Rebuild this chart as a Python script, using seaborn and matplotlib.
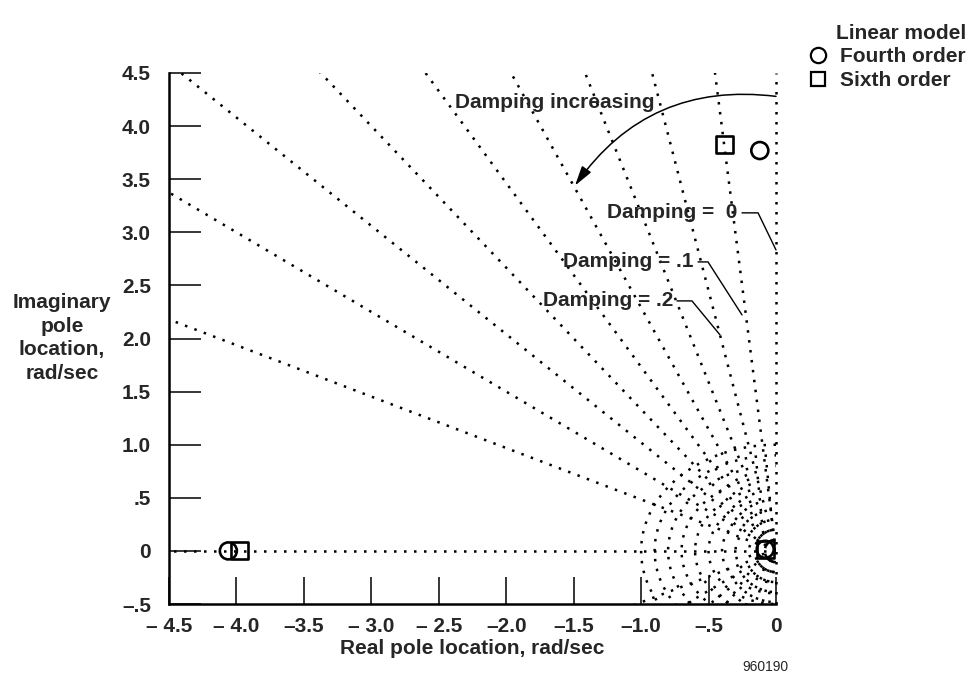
import numpy as np
import pandas as pd
import matplotlib
matplotlib.use("Agg")
import matplotlib.pyplot as plt
import seaborn as sns
from matplotlib.lines import Line2D

# ---- data ----
damping_ratios = [0.0, 0.1, 0.2, 0.3, 0.4, 0.5, 0.6, 0.7, 0.8, 0.9, 1.0]
natural_freqs = [0.1, 0.2, 0.3, 0.4, 0.5, 0.6, 0.7, 0.8, 0.9, 1.0]

fourth_real = [-4.06, -0.08, -0.12]
fourth_imag = [0.0, 0.015, 3.77]
sixth_real = [-3.98, -0.08, -0.38]
sixth_imag = [0.0, 0.015, 3.83]

x_ticks = [-4.5, -4.0, -3.5, -3.0, -2.5, -2.0, -1.5, -1.0, -0.5, 0.0]
x_ticklabels = ["\u2013 4.5", "\u2013 4.0", "\u20133.5", "\u2013 3.0", "\u2013 2.5",
                "\u20132.0", "\u20131.5", "\u20131.0", "\u2013.5", "0"]
y_ticks = [-0.5, 0, 0.5, 1.0, 1.5, 2.0, 2.5, 3.0, 3.5, 4.0, 4.5]
y_ticklabels = ["\u2013.5", "0", ".5", "1.0", "1.5", "2.0", "2.5", "3.0", "3.5", "4.0", "4.5"]

sns.set_theme(style="white")
plt.rcParams["font.family"] = ["Liberation Sans", "DejaVu Sans"]
plt.rcParams["font.weight"] = "bold"
FS = 15

fig = plt.figure(figsize=(9.7, 6.75), dpi=100)
ax = fig.add_axes([169 / 970, 1 - 604 / 675, (776 - 169) / 970, (604 - 73) / 675])
xmin, xmax, ymin, ymax = -4.5, 0.0, -0.5, 4.5

dot = dict(color="black", linestyle=(0, (1, 3.0)), linewidth=1.8)

# constant damping lines
R = 8.0
for z in damping_ratios:
    dx = -z
    dy = np.sqrt(max(0.0, 1 - z * z))
    if z == 0.0:
        ax.plot([0, 0], [ymin, ymax], clip_on=False, **dot)
        continue
    ax.plot([0, R * dx], [0, R * dy], **dot)
    if dy > 0:
        ax.plot([0, R * dx], [0, -R * dy], **dot)

# constant natural frequency circles
th = np.linspace(0, 2 * np.pi, 400)
for wn in natural_freqs:
    ax.plot(wn * np.cos(th), wn * np.sin(th), **dot)

# pole locations
df = pd.DataFrame({
    "real": fourth_real + sixth_real,
    "imag": fourth_imag + sixth_imag,
    "model": ["Fourth order"] * len(fourth_real) + ["Sixth order"] * len(sixth_real),
})
sns.scatterplot(data=df, x="real", y="imag", style="model",
                markers={"Fourth order": "o", "Sixth order": "s"},
                s=150, facecolor="none", edgecolor="black", linewidth=1.9,
                ax=ax, clip_on=False, zorder=5, legend=False)

ax.set_xlim(xmin, xmax)
ax.set_ylim(ymin, ymax)
ax.set_xticks(x_ticks)
ax.set_xticklabels(x_ticklabels)
ax.set_yticks(y_ticks)
ax.set_yticklabels(y_ticklabels)
for s in ["top", "right"]:
    ax.spines[s].set_visible(False)
for s in ["left", "bottom"]:
    ax.spines[s].set_linewidth(1.8)
    ax.spines[s].set_color("black")
ax.tick_params(axis="x", bottom=True, direction="in", length=19.5, width=1.1,
               color="black", pad=9.5, labelsize=FS)
ax.tick_params(axis="y", left=True, direction="in", length=23, width=1.1,
               color="black", pad=13, labelsize=FS)
for lab in ax.get_xticklabels() + ax.get_yticklabels():
    lab.set_fontweight("bold")
ax.set_xlabel("")
ax.set_ylabel("")

# annotations
ax.text(-1.64, 4.226, "Damping increasing", ha="center", va="center",
        fontsize=FS, fontweight="bold")
ax.annotate("", xy=(-1.49, 3.44), xytext=(0.0, 4.28),
            arrowprops=dict(arrowstyle="-|>,head_length=1.0,head_width=0.28",
                            connectionstyle="arc3,rad=0.3", color="black",
                            linewidth=1.1, shrinkA=0, shrinkB=0),
            annotation_clip=False)

labels = [("Damping =  0", -0.289, 3.183, [(-0.252, 3.183), (-0.133, 3.183), (0.0, 2.834)]),
          ("Damping = .1", -0.608, 2.721, [(-0.578, 2.721), (-0.504, 2.721), (-0.252, 2.222)]),
          ("Damping = .2", -0.764, 2.354, [(-0.734, 2.354), (-0.623, 2.354), (-0.415, 2.034)])]
for txt, tx, ty, pts in labels:
    ax.text(tx, ty, txt, ha="right", va="center", fontsize=FS, fontweight="bold")
    px, py = zip(*pts)
    ax.plot(px, py, color="black", linewidth=1.0, clip_on=False)

# axis labels
fig.text(62 / 970, 1 - 338 / 675, "Imaginary\npole\nlocation,\nrad/sec", ha="center",
         va="center", fontsize=FS, fontweight="bold", linespacing=1.32)
fig.text(472 / 970, 1 - 648 / 675, "Real pole location, rad/sec", ha="center", va="center",
         fontsize=FS, fontweight="bold")
fig.text(765 / 970, 1 - 667 / 675, "960190", ha="center", va="center",
         fontsize=10, fontweight="normal")

# legend
handles = [Line2D([], [], marker="o", linestyle="none", markersize=11,
                  markerfacecolor="none", markeredgecolor="black", markeredgewidth=1.6),
           Line2D([], [], marker="s", linestyle="none", markersize=10.5,
                  markerfacecolor="none", markeredgecolor="black", markeredgewidth=1.6)]
leg = fig.legend(handles, ["Fourth order", "Sixth order"], title="Linear model",
                 loc="upper right", bbox_to_anchor=(0.996, 0.965), frameon=False,
                 prop=dict(size=FS, weight="bold"), handlelength=0.8,
                 handletextpad=0.7, labelspacing=0.22, borderaxespad=0,
                 borderpad=0, alignment="right")
leg.get_title().set_fontsize(FS)
leg.get_title().set_fontweight("bold")

fig.savefig("out.png", dpi=100)
